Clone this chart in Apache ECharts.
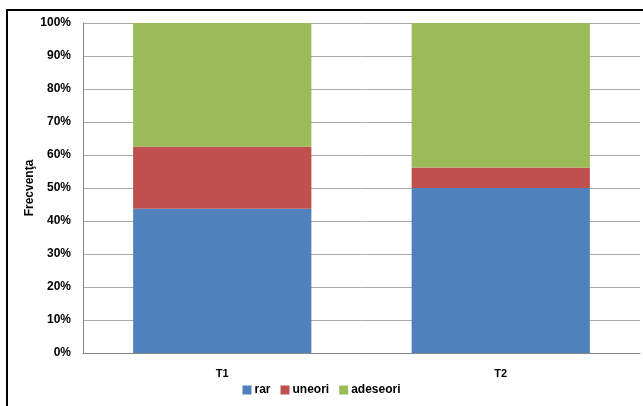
<!DOCTYPE html>
<html>
<head>
<meta charset="utf-8">
<script src="https://cdn.jsdelivr.net/npm/echarts@6/dist/echarts.min.js"></script>
<style>
    html, body {margin: 0; padding: 0; background: #fff;}
    #main {width: 643px; height: 406px; position: relative;}
    #frame {position: absolute; left: 6px; top: 9px; width: 640px; height: 400px;
        border-left: 2px solid #000; border-top: 2px solid #000; pointer-events: none;}
</style>
</head>
<body>
<div id="main"></div>
<div id="frame"></div>
<script>
var categories = ['T1', 'T2'];
var rarData = [43.75, 50];
var uneoriData = [18.75, 6.25];
var adeseoriData = [37.5, 43.75];
var seriesNames = ['rar', 'uneori', 'adeseori'];
var yTitle = 'Frecvenţa';

var myChart = echarts.init(document.getElementById('main'));
var font = 'Liberation Sans';

function bar(name, data, color) {
    return {
        name: name,
        type: 'bar',
        stack: 'total',
        barCategoryGap: '36%',
        data: data,
        itemStyle: {color: color},
        silent: true
    };
}

var option = {
    animation: false,
    grid: {left: 83, top: 23, right: 3, bottom: 53},
    // titlul axei Y, pozitionat manual
    graphic: [{
        type: 'text',
        x: 30,
        y: 188,
        rotation: Math.PI / 2,
        style: {
            text: yTitle,
            fontFamily: font,
            fontWeight: 'bold',
            fontSize: 12,
            fill: '#000',
            align: 'center',
            verticalAlign: 'middle'
        }
    }],
    legend: {
        data: seriesNames,
        bottom: 5,
        left: 'center',
        itemWidth: 9,
        itemHeight: 9,
        itemGap: 10,
        icon: 'rect',
        textStyle: {fontFamily: font, fontWeight: 'bold', fontSize: 12, color: '#000', padding: [0, 0, 0, -2]}
    },
    xAxis: {
        type: 'category',
        data: categories,
        axisTick: {show: false},
        axisLine: {lineStyle: {color: '#868686', width: 1}},
        axisLabel: {fontFamily: font, fontWeight: 'bold', fontSize: 11, color: '#000', margin: 15}
    },
    yAxis: {
        type: 'value',
        min: 0,
        max: 100,
        interval: 10,
        axisLine: {show: true, lineStyle: {color: '#868686'}},
        axisTick: {show: false},
        axisLabel: {formatter: '{value}%', fontFamily: font, fontWeight: 'bold', fontSize: 12, color: '#000', margin: 12},
        splitLine: {lineStyle: {color: '#aaaaaa', width: 1}}
    },
    series: [
        bar('rar', rarData, '#4f81bd'),
        bar('uneori', uneoriData, '#c0504d'),
        bar('adeseori', adeseoriData, '#9bbb59')
    ]
};
myChart.setOption(option);
</script>
</body>
</html>
